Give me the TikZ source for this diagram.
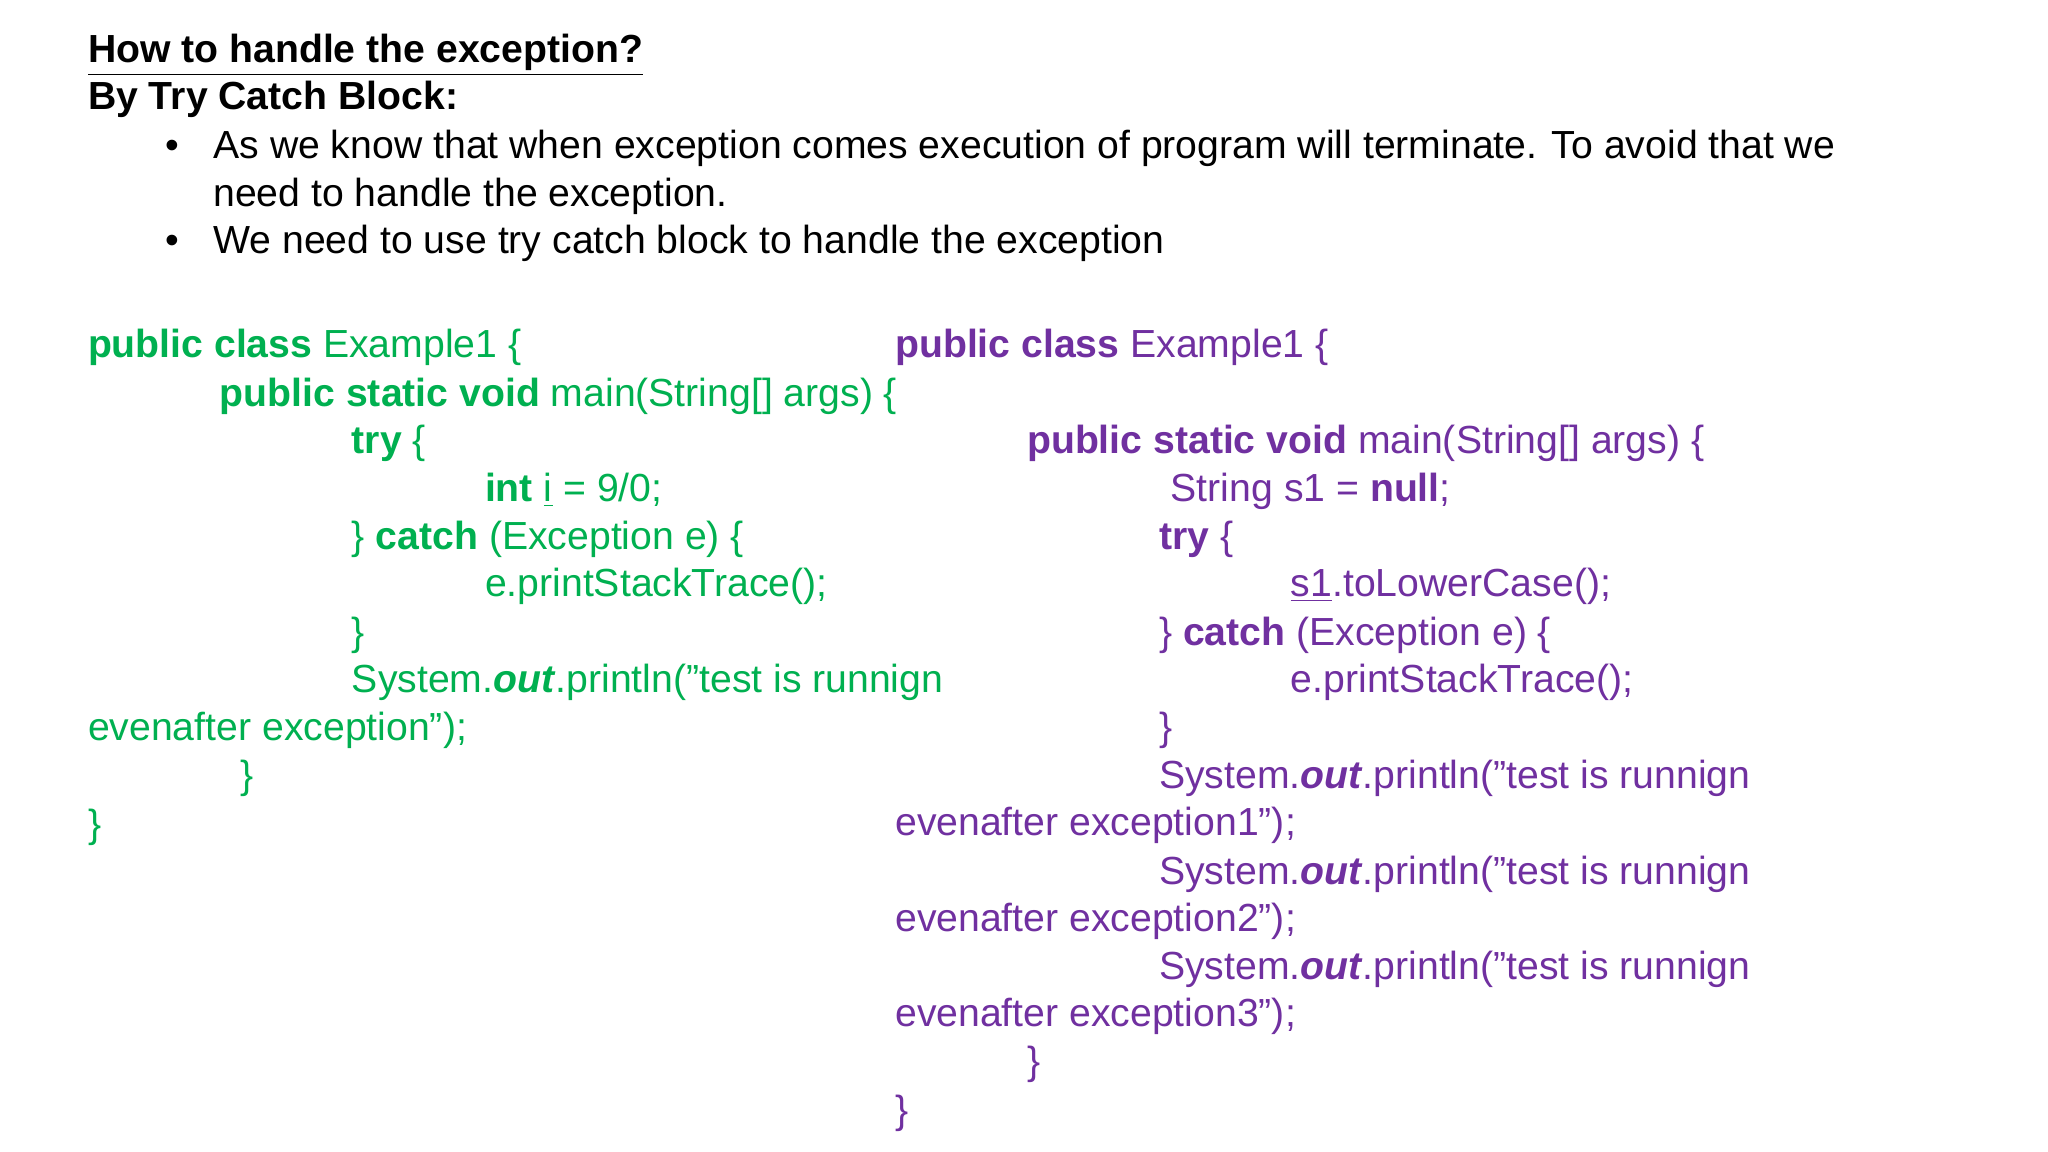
\documentclass[tikz,border=0pt]{standalone}
\usepackage{fontspec}
\setmainfont{Liberation Sans}
\definecolor{cg}{RGB}{0,176,80}
\definecolor{cp}{RGB}{112,48,160}
\begin{document}
\begin{tikzpicture}[x=0.5pt,y=-0.5pt,
  t/.style={anchor=base west,inner sep=0pt,font=\fontsize{15}{18}\selectfont},
  g/.style={t,text=cg},p/.style={t,text=cp}]
\useasboundingbox[fill=white] (0,0) rectangle (1568,882);
\node[t] (h1) at (67,48) {\textbf{\underline{How to handle the exception?}}};
\node[t] (h2) at (67,84) {\textbf{By Try Catch Block:}};
\node[t] (b1) at (126,121) {•};
\node[t] (l1) at (163,121) {As we know that when exception comes execution of program will terminate. To avoid that we};
\node[t] (l2) at (163,158) {need to handle the exception.};
\node[t] (b2) at (126,194) {•};
\node[t] (l3) at (163,194) {We need to use try catch block to handle the exception};
% left
\node[g] (a1) at (67,274) {\textbf{public class} Example1 \{};
\node[g] (a2) at (168,311) {\textbf{public static void} main(String[] args) \{};
\node[g] (a3) at (269,347) {\textbf{try} \{};
\node[g] (a4) at (371,384) {\textbf{int} \underline{i} = 9/0;};
\node[g] (a5) at (269,421) {\} \textbf{catch} (Exception e) \{};
\node[g] (a6) at (371,457) {e.printStackTrace();};
\node[g] (a7) at (269,494) {\}};
\node[g] (a8) at (269,530) {System.\textbf{\textit{out}}.println("test is runnign};
\node[g] (a9) at (67,567) {evenafter exception");};
\node[g] (a10) at (184,604) {\}};
\node[g] (a11) at (67,641) {\}};
% right
\node[p] (r1) at (685,274) {\textbf{public class} Example1 \{};
\node[p] (r2) at (786,347) {\textbf{public static void} main(String[] args) \{};
\node[p] (r3) at (896,384) {String s1 = \textbf{null};};
\node[p] (r4) at (887,421) {\textbf{try} \{};
\node[p] (r5) at (988,457) {\underline{s1}.toLowerCase();};
\node[p] (r6) at (887,494) {\} \textbf{catch} (Exception e) \{};
\node[p] (r7) at (988,530) {e.printStackTrace();};
\node[p] (r8) at (887,567) {\}};
\node[p] (r9) at (887,604) {System.\textbf{\textit{out}}.println("test is runnign};
\node[p] (r10) at (685,640) {evenafter exception1");};
\node[p] (r11) at (887,677) {System.\textbf{\textit{out}}.println("test is runnign};
\node[p] (r12) at (685,713) {evenafter exception2");};
\node[p] (r13) at (887,750) {System.\textbf{\textit{out}}.println("test is runnign};
\node[p] (r14) at (685,786) {evenafter exception3");};
\node[p] (r15) at (786,823) {\}};
\node[p] (r16) at (685,860) {\}};
\end{tikzpicture}
\end{document}
